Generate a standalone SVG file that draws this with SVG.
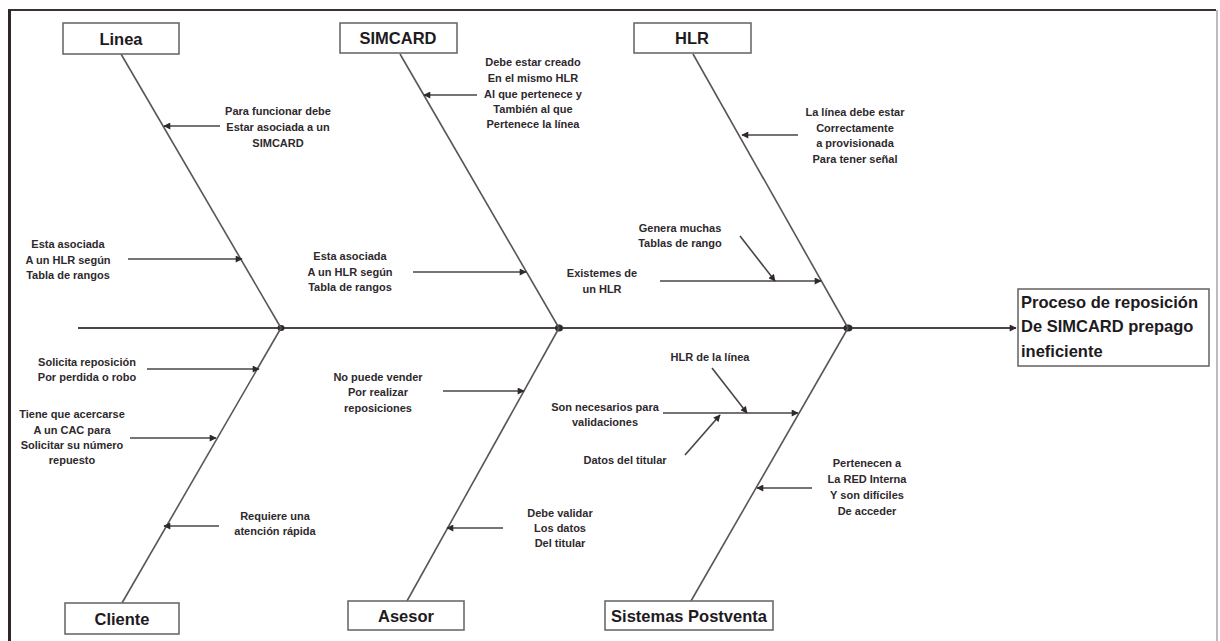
<svg xmlns="http://www.w3.org/2000/svg" width="1220" height="641" viewBox="0 0 1220 641">
  <style>
    .box { fill: #ffffff; stroke: #6e6a6c; stroke-width: 1.6; }
    .head { font-family: "Liberation Sans", Arial, sans-serif; font-weight: bold; font-size: 16.5px; fill: #1e1a1d; text-anchor: middle; }
    .effect { font-family: "Liberation Sans", Arial, sans-serif; font-weight: bold; font-size: 16.5px; fill: #1e1a1d; }
    .lbl { font-family: "Liberation Sans", Arial, sans-serif; font-weight: bold; font-size: 11px; fill: #2e292d; text-anchor: middle; }
    .bone { stroke: #5a5658; stroke-width: 1.6; fill: none; }
    .spine { stroke: #4a4548; stroke-width: 2; fill: none; }
    .sub { stroke: #4a4548; stroke-width: 1.6; fill: none; marker-end: url(#tip); }
  </style>
  <defs>
    <marker id="tip" viewBox="0 0 10 10" refX="9" refY="5" markerWidth="8" markerHeight="7" markerUnits="userSpaceOnUse" orient="auto">
      <path d="M0,0 L10,5 L0,10 z" fill="#2e292d"/>
    </marker>
  </defs>

  <rect width="1220" height="641" fill="#ffffff"/>

  <!-- page frame -->
  <g id="frame">
    <line x1="8" y1="10" x2="1216" y2="10" stroke="#3a3036" stroke-width="2"/>
    <line x1="9.5" y1="10" x2="9.5" y2="641" stroke="#2e262b" stroke-width="3"/>
    <line x1="1217" y1="10" x2="1217" y2="641" stroke="#a8a4a6" stroke-width="1.5"/>
  </g>

  <!-- connectors: spine, bones and cause arrows -->
  <g id="connectors">
    <line class="spine" x1="78" y1="328" x2="1016" y2="328" marker-end="url(#tip)"/>
    <ellipse cx="281" cy="328" rx="3.5" ry="3" fill="#2e292d"/>
    <ellipse cx="559" cy="328" rx="4" ry="3.5" fill="#2e292d"/>
    <ellipse cx="848" cy="328" rx="4.5" ry="3.5" fill="#2e292d"/>

    <!-- bones -->
    <line class="bone" x1="121" y1="54" x2="281" y2="328"/>
    <line class="bone" x1="122" y1="603" x2="281" y2="328"/>
    <line class="bone" x1="400" y1="54" x2="559" y2="328"/>
    <line class="bone" x1="407" y1="601" x2="559" y2="328"/>
    <line class="bone" x1="693" y1="54" x2="848" y2="328"/>
    <line class="bone" x1="691" y1="601" x2="848" y2="328"/>

    <!-- Linea causes -->
    <line class="sub" x1="220" y1="126" x2="164" y2="126"/>
    <line class="sub" x1="128" y1="259" x2="242" y2="259"/>
    <!-- Cliente causes -->
    <line class="sub" x1="147" y1="369" x2="259" y2="369"/>
    <line class="sub" x1="130" y1="438" x2="216" y2="438"/>
    <line class="sub" x1="219" y1="526" x2="164" y2="526"/>
    <!-- SIMCARD causes -->
    <line class="sub" x1="477" y1="95" x2="424" y2="95"/>
    <line class="sub" x1="413" y1="272" x2="526" y2="272"/>
    <!-- Asesor causes -->
    <line class="sub" x1="443" y1="391" x2="524" y2="391"/>
    <line class="sub" x1="503" y1="528" x2="447" y2="528"/>
    <!-- HLR causes -->
    <line class="sub" x1="798" y1="135" x2="742" y2="135"/>
    <line class="sub" x1="660" y1="281" x2="821" y2="281"/>
    <line class="sub" x1="740" y1="236" x2="775" y2="281"/>
    <!-- Sistemas Postventa causes -->
    <line class="sub" x1="663" y1="413" x2="798" y2="413"/>
    <line class="sub" x1="712" y1="368" x2="747" y2="413"/>
    <line class="sub" x1="685" y1="455" x2="720" y2="415"/>
    <line class="sub" x1="812" y1="488" x2="757" y2="488"/>
  </g>

  <!-- category boxes -->
  <g id="linea">
    <rect class="box" x="63" y="23" width="116" height="31"/>
    <text class="head" x="121" y="45">Linea</text>
  </g>
  <g id="simcard">
    <rect class="box" x="340" y="23" width="117" height="30"/>
    <text class="head" x="398" y="44">SIMCARD</text>
  </g>
  <g id="hlr">
    <rect class="box" x="634" y="23" width="117" height="30"/>
    <text class="head" x="692" y="44">HLR</text>
  </g>
  <g id="cliente">
    <rect class="box" x="65" y="603" width="114" height="31"/>
    <text class="head" x="122" y="625">Cliente</text>
  </g>
  <g id="asesor">
    <rect class="box" x="348" y="601" width="116" height="29"/>
    <text class="head" x="406" y="622">Asesor</text>
  </g>
  <g id="sistemas-postventa">
    <rect class="box" x="605" y="601" width="168" height="29"/>
    <text class="head" x="689" y="622">Sistemas Postventa</text>
  </g>

  <!-- effect box -->
  <g id="efecto">
    <rect class="box" x="1018" y="289" width="191" height="77"/>
    <text class="effect" x="1021" y="308">Proceso de reposición</text>
    <text class="effect" x="1021" y="332">De SIMCARD prepago</text>
    <text class="effect" x="1021" y="357">ineficiente</text>
  </g>

  <!-- cause labels -->
  <g id="causa-linea-1">
    <text class="lbl" x="278" y="115">Para funcionar debe</text>
    <text class="lbl" x="278" y="131">Estar asociada a un</text>
    <text class="lbl" x="278" y="147">SIMCARD</text>
  </g>
  <g id="causa-linea-2">
    <text class="lbl" x="68" y="248">Esta asociada</text>
    <text class="lbl" x="68" y="264">A un HLR según</text>
    <text class="lbl" x="68" y="279">Tabla de rangos</text>
  </g>
  <g id="causa-cliente-1">
    <text class="lbl" x="87" y="366">Solicita reposición</text>
    <text class="lbl" x="87" y="381">Por perdida o robo</text>
  </g>
  <g id="causa-cliente-2">
    <text class="lbl" x="72" y="418">Tiene que acercarse</text>
    <text class="lbl" x="72" y="434">A un CAC para</text>
    <text class="lbl" x="72" y="449">Solicitar su número</text>
    <text class="lbl" x="72" y="464">repuesto</text>
  </g>
  <g id="causa-cliente-3">
    <text class="lbl" x="275" y="520">Requiere una</text>
    <text class="lbl" x="275" y="535">atención rápida</text>
  </g>
  <g id="causa-simcard-1">
    <text class="lbl" x="533" y="66">Debe estar creado</text>
    <text class="lbl" x="533" y="82">En el mismo HLR</text>
    <text class="lbl" x="533" y="98">Al que pertenece y</text>
    <text class="lbl" x="533" y="113">También al que</text>
    <text class="lbl" x="533" y="128">Pertenece la línea</text>
  </g>
  <g id="causa-simcard-2">
    <text class="lbl" x="350" y="260">Esta asociada</text>
    <text class="lbl" x="350" y="276">A un HLR según</text>
    <text class="lbl" x="350" y="291">Tabla de rangos</text>
  </g>
  <g id="causa-asesor-1">
    <text class="lbl" x="378" y="381">No puede vender</text>
    <text class="lbl" x="378" y="396">Por realizar</text>
    <text class="lbl" x="378" y="412">reposiciones</text>
  </g>
  <g id="causa-asesor-2">
    <text class="lbl" x="560" y="517">Debe validar</text>
    <text class="lbl" x="560" y="532">Los datos</text>
    <text class="lbl" x="560" y="547">Del titular</text>
  </g>
  <g id="causa-hlr-1">
    <text class="lbl" x="855" y="116">La línea debe estar</text>
    <text class="lbl" x="855" y="132">Correctamente</text>
    <text class="lbl" x="855" y="147">a provisionada</text>
    <text class="lbl" x="855" y="163">Para tener señal</text>
  </g>
  <g id="causa-hlr-2">
    <text class="lbl" x="680" y="232">Genera muchas</text>
    <text class="lbl" x="680" y="247">Tablas de rango</text>
  </g>
  <g id="causa-hlr-3">
    <text class="lbl" x="602" y="277">Existemes de</text>
    <text class="lbl" x="602" y="293">un HLR</text>
  </g>
  <g id="causa-postventa-1">
    <text class="lbl" x="710" y="361">HLR de la línea</text>
  </g>
  <g id="causa-postventa-2">
    <text class="lbl" x="605" y="411">Son necesarios para</text>
    <text class="lbl" x="605" y="426">validaciones</text>
  </g>
  <g id="causa-postventa-3">
    <text class="lbl" x="625" y="464">Datos del titular</text>
  </g>
  <g id="causa-postventa-4">
    <text class="lbl" x="867" y="467">Pertenecen a</text>
    <text class="lbl" x="867" y="483">La RED Interna</text>
    <text class="lbl" x="867" y="499">Y son difíciles</text>
    <text class="lbl" x="867" y="515">De acceder</text>
  </g>
</svg>
